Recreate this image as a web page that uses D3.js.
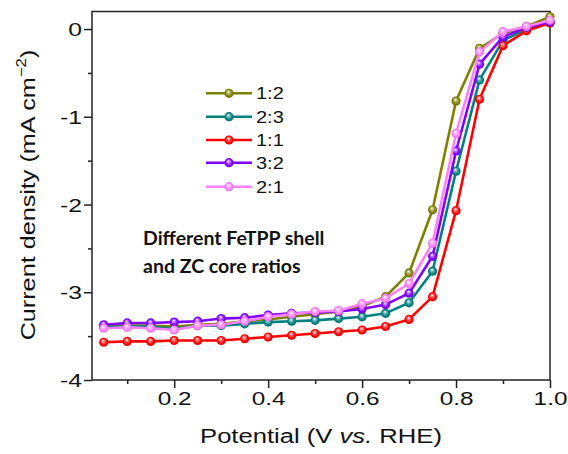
<!DOCTYPE html>
<html><head><meta charset="utf-8">
<script src="https://cdn.jsdelivr.net/npm/d3@7"></script>
<style>body{margin:0;background:#fff}svg{display:block}</style>
</head><body>
<script>
const potentials = [0.05,0.10,0.15,0.20,0.25,0.30,0.35,0.40,0.45,0.50,0.55,0.60,0.65,0.70,0.75,0.80,0.85,0.90,0.95,1.00];
const seriesNames = ["1:2","2:3","1:1","3:2","2:1"];
const seriesColors = ["#808000","#008080","#ff0000","#8000ff","#ff80ff"];
const s12 = [-3.39,-3.38,-3.38,-3.39,-3.37,-3.36,-3.33,-3.31,-3.28,-3.25,-3.22,-3.16,-3.05,-2.78,-2.06,-0.82,-0.22,-0.05,0.03,0.14];
const s23 = [-3.40,-3.39,-3.39,-3.42,-3.38,-3.38,-3.36,-3.34,-3.33,-3.32,-3.30,-3.28,-3.24,-3.12,-2.76,-1.62,-0.58,-0.13,0.00,0.08];
const s11 = [-3.57,-3.56,-3.56,-3.55,-3.55,-3.55,-3.53,-3.51,-3.49,-3.47,-3.45,-3.43,-3.39,-3.31,-3.05,-2.07,-0.80,-0.19,-0.02,0.07];
const s32 = [-3.37,-3.35,-3.35,-3.34,-3.33,-3.30,-3.29,-3.26,-3.24,-3.23,-3.22,-3.19,-3.14,-3.01,-2.59,-1.39,-0.40,-0.09,0.02,0.08];
const s21 = [-3.41,-3.40,-3.41,-3.43,-3.38,-3.37,-3.33,-3.28,-3.25,-3.22,-3.21,-3.13,-3.07,-2.90,-2.44,-1.19,-0.26,-0.03,0.03,0.10];
const seriesValues = [s12,s23,s11,s32,s21];
const xTicks = [0.2,0.4,0.6,0.8,1.0];
const xMinor = [0.1,0.3,0.5,0.7,0.9];
const yTicks = [0,-1,-2,-3,-4];
const yMinor = [-0.5,-1.5,-2.5,-3.5];

const W=568,H=454;
const svg=d3.select("body").append("svg").attr("width",W).attr("height",H);
const x=d3.scaleLinear().domain([0.025,1.0]).range([92,550]);
const y=d3.scaleLinear().domain([-4,0.2]).range([380,11.5]);
const font="'Liberation Sans', Arial, sans-serif";

const defs=svg.append("defs");
seriesColors.forEach((c,i)=>{
  const g=defs.append("radialGradient").attr("id","g"+i).attr("cx","0.5").attr("cy","0.5").attr("r","0.5").attr("fx","0.42").attr("fy","0.32");
  g.append("stop").attr("offset","0").attr("stop-color","#fff");
  g.append("stop").attr("offset","0.35").attr("stop-color",d3.interpolateRgb("#fff",c)(0.6));
  g.append("stop").attr("offset","0.75").attr("stop-color",c);
  g.append("stop").attr("offset","1").attr("stop-color",d3.color(c).darker(0.4));
});

// axes
const xAxis=d3.axisBottom(x).tickValues(xTicks).tickFormat(d=>d.toFixed(1)).tickSize(8).tickSizeOuter(0);
const xAxisMinor=d3.axisBottom(x).tickValues(xMinor).tickFormat("").tickSize(4).tickSizeOuter(0);
const yAxis=d3.axisLeft(y).tickValues(yTicks).tickFormat(d=>String(d)).tickSize(8).tickSizeOuter(0);
const yAxisMinor=d3.axisLeft(y).tickValues(yMinor).tickFormat("").tickSize(4).tickSizeOuter(0);

function style(g){
  g.selectAll("path").remove();
  g.selectAll("line").attr("stroke","#222").attr("stroke-width",1.5);
  g.selectAll("text").attr("font-family",font).attr("font-size",19).attr("fill","#111");
}
const gx=svg.append("g").attr("transform","translate(0,380)").call(xAxis).call(style);
gx.selectAll("text").attr("dy",null).attr("y",0).attr("transform","translate(0,25) scale(1.28,1)");
svg.append("g").attr("transform","translate(0,380)").call(xAxisMinor).call(style);
const gy=svg.append("g").attr("transform","translate(92,0)").call(yAxis).call(style);
gy.selectAll("text").attr("x",0).attr("dy","0.35em").attr("transform","translate(-10,0) scale(1.3,1)");
svg.append("g").attr("transform","translate(92,0)").call(yAxisMinor).call(style);

svg.append("rect").attr("x",x(0.025)).attr("y",y(0.2)).attr("width",x(1.0)-x(0.025)).attr("height",y(-4)-y(0.2))
  .attr("fill","none").attr("stroke","#222").attr("stroke-width",1.5);

// series
const line=d3.line().x((d,i)=>x(potentials[i])).y(d=>y(d));
seriesValues.forEach((vals,i)=>{
  const g=svg.append("g");
  g.append("path").datum(vals).attr("d",line).attr("fill","none").attr("stroke",seriesColors[i]).attr("stroke-width",2.6);
  g.selectAll("circle").data(vals).join("circle").attr("cx",(d,j)=>x(potentials[j])).attr("cy",d=>y(d)).attr("r",4.6)
    .attr("fill",`url(#g${i})`);
});

// legend
const legY=[93.3,116.7,140,162.7,186.7];
seriesNames.forEach((n,i)=>{
  const g=svg.append("g").attr("transform",`translate(0,${legY[i]})`);
  g.append("line").attr("x1",206).attr("x2",252).attr("stroke",seriesColors[i]).attr("stroke-width",2.6);
  g.append("circle").attr("cx",229).attr("cy",0).attr("r",4.6).attr("fill",`url(#g${i})`);
  g.append("text").attr("transform","translate(256,6) scale(1.25,1)").attr("font-family",font).attr("font-size",16).attr("fill","#111").text(n);
});

// annotation
const ann=svg.append("text").attr("font-family","Lato, 'Open Sans', sans-serif").attr("font-weight","bold").attr("font-size",19.5).attr("fill","#111");
ann.append("tspan").attr("x",143).attr("y",245).text("Different FeTPP shell");
ann.append("tspan").attr("x",143).attr("y",273).text("and ZC core ratios");

// axis titles
const xt=svg.append("text").attr("transform","translate(321,443) scale(1.22,1)").attr("text-anchor","middle").attr("font-family",font).attr("font-size",21).attr("fill","#111");
xt.append("tspan").text("Potential (V ");
xt.append("tspan").attr("font-style","italic").text("vs.");
xt.append("tspan").text(" RHE)");
const yt=svg.append("text").attr("transform","translate(35,195) rotate(-90) scale(1.2,1)").attr("text-anchor","middle").attr("font-family",font).attr("font-size",21).attr("fill","#111");
yt.append("tspan").text("Current density (mA cm");
yt.append("tspan").attr("font-size",14).attr("dy",-9).text("\u22122");
yt.append("tspan").attr("dy",9).text(")");
</script>
</body></html>
